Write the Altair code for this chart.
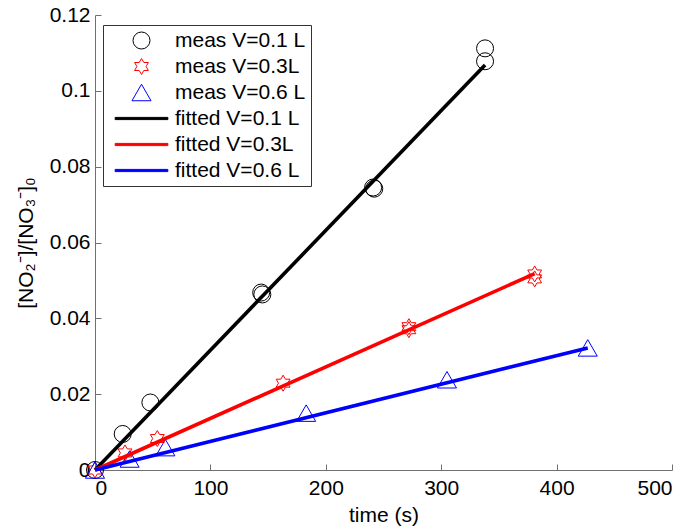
import altair as alt
import pandas as pd

# ---- data ----
meas_labels = ["meas V=0.1 L", "meas V=0.3L", "meas V=0.6 L"]
fit_labels = ["fitted V=0.1 L", "fitted V=0.3L", "fitted V=0.6 L"]
series_colors = ["#000000", "#ff0000", "#0000ff"]

t_01 = [0, 24, 48, 144, 145, 241, 242, 338, 338]
y_01 = [0, 0.0095, 0.0178, 0.0468, 0.0463, 0.0745, 0.0742, 0.1112, 0.1078]
t_03 = [0, 26, 54, 163, 272, 272, 381, 381]
y_03 = [0, 0.0045, 0.0083, 0.0229, 0.0378, 0.0370, 0.0517, 0.0504]
t_06 = [0, 30, 61, 183, 305, 427]
y_06 = [0, 0.0029, 0.0059, 0.0150, 0.0238, 0.0322]

fit_t_start = [0, 0, 0]
fit_y_start = [0, 0, 0]
fit_t_end = [338, 381, 427]
fit_y_end = [0.1068, 0.0518, 0.0322]

x_ticks = [0, 100, 200, 300, 400, 500]
y_ticks = [0, 0.02, 0.04, 0.06, 0.08, 0.1, 0.12]

# ---- tables ----
meas_rows = []
for lab, ts, ys in zip(meas_labels, [t_01, t_03, t_06], [y_01, y_03, y_06]):
    for t, y in zip(ts, ys):
        meas_rows.append({"t": t, "y": y, "series": lab})
meas_df = pd.DataFrame(meas_rows)

fit_rows = []
for lab, col, t0, y0, t1, y1 in zip(fit_labels, series_colors, fit_t_start, fit_y_start, fit_t_end, fit_y_end):
    fit_rows.append({"t": t0, "y": y0, "series": lab, "col": col})
    fit_rows.append({"t": t1, "y": y1, "series": lab, "col": col})
fit_df = pd.DataFrame(fit_rows)

all_labels = meas_labels + fit_labels

hexagram = ("M0,-0.94L0.271,-0.47L0.814,-0.47L0.543,0L0.814,0.47L0.271,0.47"
            "L0,0.94L-0.271,0.47L-0.814,0.47L-0.543,0L-0.814,-0.47L-0.271,-0.47Z")
triangle = "M0,-0.97L1.12,0.97L-1.12,0.97Z"
line_sym = "M-3.1,-0.13H3.1V0.13H-3.1Z"
shape_range = ["circle", hexagram, triangle, line_sym, line_sym, line_sym]
stroke_range = series_colors + series_colors
fill_range = ["transparent", "transparent", "transparent"] + series_colors

FONT = "Liberation Sans"

x_enc = alt.X("t:Q", scale=alt.Scale(domain=[0, 500], nice=False, zero=False),
              axis=alt.Axis(values=x_ticks, title="time (s)", tickSize={"expr": "-6"},
                            labelPadding=13, titlePadding=6, format="d"))
y_enc = alt.Y("y:Q", scale=alt.Scale(domain=[0, 0.12], nice=False, zero=False),
              axis=alt.Axis(values=y_ticks, title="[NO₂⁻]/[NO₃⁻]₀", tickSize={"expr": "-6"},
                            labelPadding=11, titlePadding=13, format="~g"))

leg = dict(title=None, orient="none", legendX=8, legendY=10)

points = alt.Chart(meas_df).mark_point(size=289, strokeWidth=1, opacity=1).encode(
    x=x_enc,
    y=y_enc,
    shape=alt.Shape("series:N", scale=alt.Scale(domain=all_labels, range=shape_range), legend=alt.Legend(**leg)),
    stroke=alt.Stroke("series:N", scale=alt.Scale(domain=all_labels, range=stroke_range), legend=alt.Legend(**leg)),
    fill=alt.Fill("series:N", scale=alt.Scale(domain=all_labels, range=fill_range), legend=alt.Legend(**leg)),
)

lines = alt.Chart(fit_df).mark_line(strokeWidth=3.6, clip=False).encode(
    x=alt.X("t:Q"),
    y=alt.Y("y:Q"),
    color=alt.Color("col:N", scale=None),
    detail="series:N",
)

chart = alt.layer(points, lines).properties(
    width=577,
    height=455,
    padding={"left": 87, "top": 7, "right": 13, "bottom": 56},
    autosize=alt.AutoSizeParams(type="none"),
    background="white",
).configure_view(stroke=None).configure_axis(
    labelFont=FONT, labelFontSize=21, labelColor="#000000",
    titleFont=FONT, titleFontSize=21, titleFontWeight="normal", titleColor="#000000",
    domainColor="#707070", tickColor="#707070", domainWidth=1, tickWidth=1, grid=False,
).configure_legend(
    labelFont=FONT, labelFontSize=21, labelColor="#000000",
    symbolSize=289, symbolStrokeWidth=1, padding=5, rowPadding=4,
    symbolOffset=23, labelOffset=23, strokeColor="#333333", fillColor="white",
    cornerRadius=0, labelLimit=300,
)

chart.save("out.html", embed_options={"renderer": "svg", "actions": False})
